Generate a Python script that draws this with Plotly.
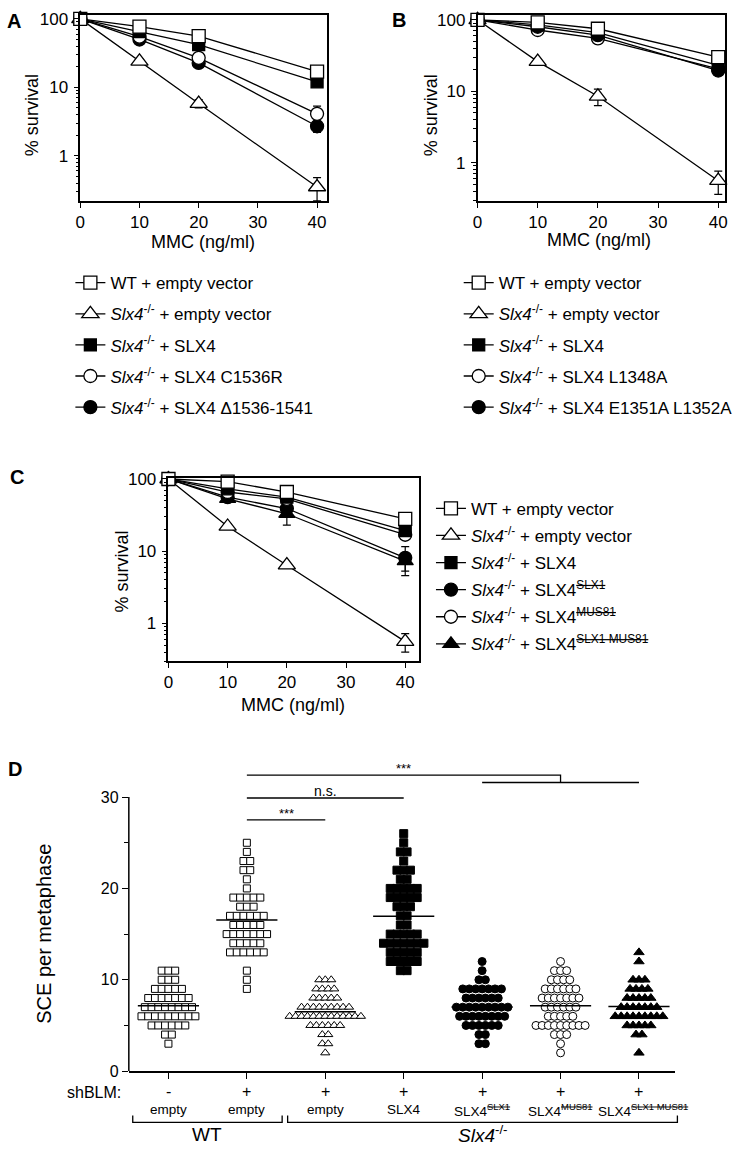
import numpy as np
import plotly.graph_objects as go

W, H = 746, 1154
FONT = "Liberation Sans, Arial, Helvetica, sans-serif"


def fx(px):
    return px / W


def fy(py):
    return 1 - py / H


# ------------------------------------------------------------------ data
dose = [0, 10, 20, 40]
KO = "<i>Slx4</i><sup>-/-</sup>"

# Panel A
a_labels = ["WT + empty vector", KO + " + empty vector", KO + " + SLX4",
            KO + " + SLX4 C1536R", KO + " + SLX4 Δ1536-1541"]
a_wt = [100, 77, 56, 17]
a_wt_err = [0, 3, 4, 2.5]
a_ko = [100, 24, 5.8, 0.35]
a_ko_err = [0, 2, 0.8, 0.13]
a_slx4 = [100, 65, 42, 12]
a_slx4_err = [0, 4, 4, 1.5]
a_c1536r = [100, 55, 27, 4.1]
a_c1536r_err = [0, 4, 3, 1.2]
a_del = [100, 50, 22.7, 2.7]
a_del_err = [0, 3, 2, 0.5]

# Panel B
b_labels = ["WT + empty vector", KO + " + empty vector", KO + " + SLX4",
            KO + " + SLX4 L1348A", KO + " + SLX4 E1351A L1352A"]
b_wt = [100, 92, 75, 30]
b_wt_err = [0, 3, 4, 3]
b_ko = [100, 26, 8.5, 0.56]
b_ko_err = [0, 2, 2.2, 0.2]
b_slx4 = [100, 85, 66, 23]
b_slx4_err = [0, 4, 4, 2]
b_l1348a = [100, 72, 55, 20.5]
b_l1348a_err = [0, 3, 3, 2]
b_e1351a = [100, 80, 61, 19.5]
b_e1351a_err = [0, 3, 3, 2]

# Panel C
c_labels = ["WT + empty vector", KO + " + empty vector", KO + " + SLX4",
            KO + " + SLX4<sup><s>SLX1</s></sup>",
            KO + " + SLX4<sup><s>MUS81</s></sup>",
            KO + " + SLX4<sup><s>SLX1 MUS81</s></sup>"]
c_wt = [100, 92, 66, 28]
c_wt_err = [0, 3, 4, 3]
c_ko = [100, 22, 6.4, 0.56]
c_ko_err = [0, 2, 0.5, 0.16]
c_slx4 = [100, 73, 56, 19.3]
c_slx4_err = [0, 5, 5, 2]
c_slx1 = [100, 56, 39, 8.1]
c_slx1_err = [0, 6, 7, 3.5]
c_mus81 = [100, 66, 53, 16.9]
c_mus81_err = [0, 4, 4, 2]
c_both = [100, 53, 33, 7.3]
c_both_err = [0, 5, 10, 2]

# Panel D : SCE per metaphase (value levels and number of metaphases)
d_shblm = ["-", "+", "+", "+", "+", "+", "+"]
d_construct = ["empty", "empty", "empty", "SLX4",
               "SLX4<sup><s>SLX1</s></sup>", "SLX4<sup><s>MUS81</s></sup>",
               "SLX4<sup><s>SLX1 MUS81</s></sup>"]
d1_vals = [11, 10, 9, 8, 7, 6, 5, 4, 3]
d1_n = [3, 3, 5, 7, 8, 9, 6, 2, 1]
d2_vals = [25, 24, 23, 22, 21, 20, 19, 18, 17, 16, 15, 14, 13, 11, 10, 9]
d2_n = [1, 1, 2, 2, 1, 1, 5, 3, 6, 5, 7, 5, 6, 1, 1, 1]
d3_vals = [10, 9, 8, 7, 6, 5, 4, 3, 2]
d3_n = [3, 4, 5, 9, 13, 6, 2, 2, 1]
d4_vals = [26, 25, 24, 23, 22, 21, 20, 19, 18, 17, 16, 15, 14, 13, 12, 11]
d4_n = [1, 1, 2, 1, 3, 2, 5, 5, 3, 2, 2, 5, 7, 5, 5, 2]
d5_vals = [12, 11, 10, 9, 8, 7, 6, 5, 4, 3]
d5_n = [1, 1, 2, 7, 6, 9, 8, 6, 2, 2]
d6_vals = [12, 11, 10, 9, 8, 7, 6, 5, 4, 3, 2]
d6_n = [1, 3, 4, 6, 7, 6, 5, 9, 3, 1, 1]
d7_vals = [13, 12, 10, 9, 8, 7, 6, 5, 4, 2]
d7_n = [1, 1, 3, 4, 5, 7, 9, 5, 2, 1]

# significance brackets (category index from, to, level, label)
sig_from = [1, 1]
sig_to = [2, 3]
sig_level = [27.5, 29.9]
sig_text = ["***", "n.s."]

# ------------------------------------------------------------------ styles
LW = 1.3
STY = {
    "sq_open": dict(symbol="square", color="white", line=dict(color="black", width=LW)),
    "tri_open": dict(symbol="triangle-up", color="white", line=dict(color="black", width=LW)),
    "sq_fill": dict(symbol="square", color="black", line=dict(color="black", width=LW)),
    "circ_open": dict(symbol="circle", color="white", line=dict(color="black", width=LW)),
    "circ_fill": dict(symbol="circle", color="black", line=dict(color="black", width=LW)),
    "tri_fill": dict(symbol="triangle-up", color="black", line=dict(color="black", width=LW)),
}
SIZE = {"sq_open": 13, "tri_open": 15, "sq_fill": 12, "circ_open": 13, "circ_fill": 13, "tri_fill": 14}

fig = go.Figure()


def note(x, y, text, size, xanchor="center", angle=0):
    fig.add_annotation(x=fx(x), y=fy(y), xref="paper", yref="paper", text=text,
                       xanchor=xanchor, yanchor="middle", textangle=angle, showarrow=False,
                       font=dict(family=FONT, size=size, color="black"))


def add_series(xa, ya, leg, name, vals, err, style, rank, group):
    mk = dict(STY[style])
    mk["size"] = SIZE[style]
    fig.add_trace(go.Scatter(
        x=dose, y=vals, mode="lines+markers", name=name,
        xaxis=xa, yaxis=ya, legend=leg, legendrank=rank, legendgroup=group,
        line=dict(color="black", width=LW), marker=mk, cliponaxis=False,
        error_y=dict(type="data", array=err, color="black", thickness=1.2, width=4),
    ))


# Panel A (draw order chosen so overlaps look like the reference)
add_series("x", "y", "legend", a_labels[1], a_ko, a_ko_err, "tri_open", 2, "a2")
add_series("x", "y", "legend", a_labels[4], a_del, a_del_err, "circ_fill", 5, "a5")
add_series("x", "y", "legend", a_labels[3], a_c1536r, a_c1536r_err, "circ_open", 4, "a4")
add_series("x", "y", "legend", a_labels[2], a_slx4, a_slx4_err, "sq_fill", 3, "a3")
add_series("x", "y", "legend", a_labels[0], a_wt, a_wt_err, "sq_open", 1, "a1")

# Panel B
add_series("x2", "y2", "legend2", b_labels[1], b_ko, b_ko_err, "tri_open", 2, "b2")
add_series("x2", "y2", "legend2", b_labels[3], b_l1348a, b_l1348a_err, "circ_open", 4, "b4")
add_series("x2", "y2", "legend2", b_labels[4], b_e1351a, b_e1351a_err, "circ_fill", 5, "b5")
add_series("x2", "y2", "legend2", b_labels[2], b_slx4, b_slx4_err, "sq_fill", 3, "b3")
add_series("x2", "y2", "legend2", b_labels[0], b_wt, b_wt_err, "sq_open", 1, "b1")

# Panel C
add_series("x3", "y3", "legend3", c_labels[1], c_ko, c_ko_err, "tri_open", 2, "c2")
add_series("x3", "y3", "legend3", c_labels[5], c_both, c_both_err, "tri_fill", 6, "c6")
add_series("x3", "y3", "legend3", c_labels[3], c_slx1, c_slx1_err, "circ_fill", 4, "c4")
add_series("x3", "y3", "legend3", c_labels[4], c_mus81, c_mus81_err, "circ_open", 5, "c5")
add_series("x3", "y3", "legend3", c_labels[2], c_slx4, c_slx4_err, "sq_fill", 3, "c3")
add_series("x3", "y3", "legend3", c_labels[0], c_wt, c_wt_err, "sq_open", 1, "c1")

# Panel D scatter dot plot
D_X0, D_X1 = 125, 676
D_R0, D_R1 = -0.505, 6.455
PX_PER_CAT = (D_X1 - D_X0) / (D_R1 - D_R0)


def swarm(vals, counts, step_px):
    step = step_px / PX_PER_CAT
    xs, ys = [], []
    for v, n in zip(vals, counts):
        offs = (np.arange(n) - (n - 1) / 2.0) * step
        xs.extend(offs.tolist())
        ys.extend([v] * n)
    return np.array(xs), np.array(ys)


d_sets = [(d1_vals, d1_n, "sq_open", 6.8, 7),
          (d2_vals, d2_n, "sq_open", 6.8, 7),
          (d3_vals, d3_n, "tri_open", 6.0, 8),
          (d4_vals, d4_n, "sq_fill", 6.8, 8),
          (d5_vals, d5_n, "circ_fill", 6.5, 8),
          (d6_vals, d6_n, "circ_open", 6.2, 8),
          (d7_vals, d7_n, "tri_fill", 6.0, 9)]

MEAN_HALF = 0.39
for i, (vals, cnts, style, step_px, size) in enumerate(d_sets):
    xo, yv = swarm(vals, cnts, step_px)
    mk = dict(STY[style])
    mk["size"] = size
    mk["line"] = dict(color="black", width=1.0)
    fig.add_trace(go.Scatter(x=i + xo, y=yv, mode="markers", marker=mk,
                             xaxis="x4", yaxis="y4", showlegend=False, cliponaxis=False))
    m = float(np.repeat(vals, cnts).mean())
    fig.add_trace(go.Scatter(x=[i - MEAN_HALF, i + MEAN_HALF], y=[m, m], mode="lines",
                             line=dict(color="black", width=1.5),
                             xaxis="x4", yaxis="y4", showlegend=False, cliponaxis=False))

# ------------------------------------------------------------------ axes
axis_font = dict(family=FONT, size=17, color="black")


def surv_axes(xname, yname, xpx, ypx, xmax, yrange):
    common = dict(showline=True, linecolor="black", linewidth=1.5, mirror=True,
                  showgrid=False, zeroline=False, ticks="outside", tickcolor="black",
                  tickwidth=1.3, tickfont=axis_font)
    fig.layout[xname] = dict(common, domain=[fx(xpx[0]), fx(xpx[1])], range=[0, xmax],
                             tickvals=[0, 10, 20, 30, 40], ticklen=5)
    fig.layout[yname] = dict(common, domain=[fy(ypx[1]), fy(ypx[0])], type="log",
                             range=yrange, tickmode="linear", tick0=0, dtick=1, ticklen=5,
                             ticklabelstandoff=2,
                             minor=dict(ticks="outside", ticklen=3, tickcolor="black",
                                        dtick="D1", showgrid=False))


surv_axes("xaxis", "yaxis", (76, 325), (7, 196), 41.67, [-0.662, 2.058])
fig.layout.xaxis.anchor = "y"
fig.layout.yaxis.anchor = "x"
surv_axes("xaxis2", "yaxis2", (477, 727), (7, 196), 41.15, [-0.538, 2.069])
fig.layout.xaxis2.anchor = "y2"
fig.layout.yaxis2.anchor = "x2"
surv_axes("xaxis3", "yaxis3", (165, 418), (477, 663), 42.34, [-0.524, 2.014])
fig.layout.xaxis3.anchor = "y3"
fig.layout.yaxis3.anchor = "x3"

D_YTOP = 33.6
D_UNIT = 9.27
fig.update_layout(
    xaxis4=dict(domain=[fx(D_X0), fx(D_X1)], range=[D_R0, D_R1], anchor="y4",
                showline=True, linecolor="black", linewidth=1.5, showgrid=False,
                zeroline=False, ticks="outside", ticklen=6, tickwidth=1.3, tickcolor="black",
                tickvals=list(range(7)), showticklabels=False),
    yaxis4=dict(domain=[fy(1079), fy(1079 - D_YTOP * D_UNIT)], range=[0, D_YTOP], anchor="x4",
                showline=False, showgrid=False, zeroline=False, ticks="outside", ticklen=6,
                tickwidth=1.3, tickcolor="black", tickvals=[0, 10, 20, 30],
                tickfont=dict(family=FONT, size=16, color="black"),
                minor=dict(ticks="outside", ticklen=4, tickcolor="black", tickvals=[5, 15, 25])),
)
fig.add_shape(type="line", xref="x4 domain", yref="y4", x0=0, x1=0, y0=0, y1=30,
              line=dict(color="black", width=1.5))

# significance brackets
for a, b, lev, txt in zip(sig_from, sig_to, sig_level, sig_text):
    fig.add_shape(type="line", xref="x4", yref="y4", x0=a, x1=b, y0=lev, y1=lev,
                  line=dict(color="black", width=1.3))
    fig.add_annotation(x=(a + b) / 2, y=lev + 0.75, xref="x4", yref="y4", text=txt,
                       xanchor="center", yanchor="middle", showarrow=False,
                       font=dict(family=FONT, size=14 if txt != "***" else 13))
# combined bracket: WT + empty vs the three mutants
fig.add_shape(type="path", xref="x4", yref="y4", path="M 1,32.4 L 5,32.4 L 5,31.6",
              line=dict(color="black", width=1.3))
fig.add_shape(type="line", xref="x4", yref="y4", x0=4, x1=6, y0=31.6, y1=31.6,
              line=dict(color="black", width=1.3))
fig.add_annotation(x=3, y=33.1, xref="x4", yref="y4", text="***", showarrow=False,
                   xanchor="center", yanchor="middle", font=dict(family=FONT, size=13))


def cat_px(c):
    return D_X0 + (c - D_R0) * PX_PER_CAT


# shBLM signs and construct names under the axis
for i, (sign, name) in enumerate(zip(d_shblm, d_construct)):
    note(cat_px(i), 1100, sign, 16)
    note(cat_px(i) + (4 if i == 6 else 0), 1118, name, 13.5)
note(119, 1101, "shBLM:", 16, xanchor="right")

# genotype brackets
for c0, c1, lab in [(-0.455, 1.45, "WT"), (1.52, 6.49, "<i>Slx4</i><sup>-/-</sup>")]:
    x0, x1 = fx(cat_px(c0)), fx(cat_px(c1))
    fig.add_shape(type="path", xref="paper", yref="paper",
                  path=f"M {x0},{fy(1124)} L {x0},{fy(1131)} L {x1},{fy(1131)} L {x1},{fy(1124)}",
                  line=dict(color="black", width=1.3))
    note((cat_px(c0) + cat_px(c1)) / 2, 1143, lab, 19)

# ------------------------------------------------------------------ titles & letters
for x, y in [(28, 109), (430, 109), (118, 572)]:
    note(x, y, "% survival", 18, angle=-90)
for x, y in [(200, 237), (600, 235), (291, 707)]:
    note(x, y, "MMC (ng/ml)", 18)
note(40, 940, "SCE per metaphase", 20, angle=-90)
for lab, x, y in [("A", 9, 13), ("B", 398, 12), ("C", 12, 476), ("D", 10, 772)]:
    note(x, y, f"<b>{lab}</b>", 20)

# ------------------------------------------------------------------ legends
def legend_cfg(xpx, ypx, gap):
    return dict(x=fx(xpx), y=fy(ypx), xanchor="left", yanchor="top", tracegroupgap=gap,
                itemwidth=30, bgcolor="rgba(0,0,0,0)", borderwidth=0,
                font=dict(family=FONT, size=17, color="black"))


fig.update_layout(
    width=W, height=H, margin=dict(l=0, r=0, t=0, b=0),
    paper_bgcolor="white", plot_bgcolor="white",
    font=dict(family=FONT, color="black"),
    legend=legend_cfg(66, 261, 6),
    legend2=legend_cfg(458, 261, 6),
    legend3=legend_cfg(430, 490, 2),
)

fig.write_html("out.html", config={"displayModeBar": False},
               post_script="document.body.style.margin='0px';")
